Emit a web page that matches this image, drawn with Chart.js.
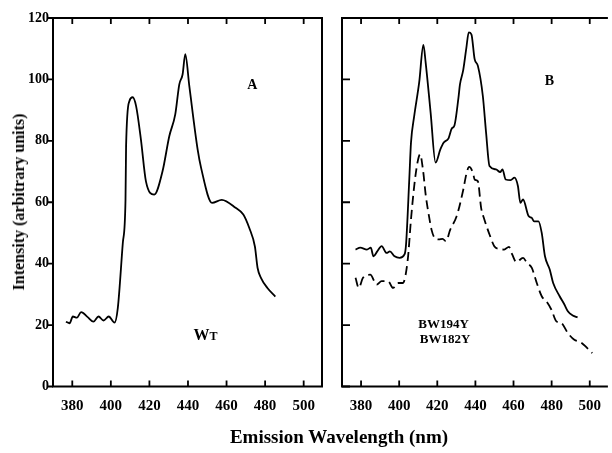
<!DOCTYPE html>
<html><head><meta charset="utf-8">
<script src="https://cdn.jsdelivr.net/npm/chart.js@4.4.1/dist/chart.umd.min.js"></script>
<style>
html,body{margin:0;padding:0;background:#fff;width:612px;height:453px;overflow:hidden;}
#wrapA{position:absolute;left:0;top:0;width:330px;height:453px;}
#wrapB{position:absolute;left:300px;top:0;width:312px;height:453px;}
.xtitle{position:absolute;left:339px;top:427px;transform:translateX(-50%);font:bold 19px 'Liberation Serif';line-height:19px;white-space:nowrap;color:#000}
.ytitle{position:absolute;left:19px;top:202px;transform:translate(-50%,-50%) rotate(-90deg);font:bold 16px 'Liberation Serif';white-space:nowrap;color:#000}
</style></head>
<body>
<div id="wrapA"><canvas id="cA" width="330" height="453"></canvas></div>
<div id="wrapB"><canvas id="cB" width="312" height="453"></canvas></div>
<div class="xtitle">Emission Wavelength (nm)</div>
<div class="ytitle">Intensity (arbitrary units)</div>
<script>
// ---- data ----
const xTickValues = [380, 400, 420, 440, 460, 480, 500];
const yTickValues = [0, 20, 40, 60, 80, 100, 120];

const wtWavelength = [376.7, 378.6, 380.3, 382.4, 384.6, 388, 391, 393.6, 396.2, 398.9, 401.9, 403.6, 406.2, 407.6, 407.9, 409.6, 411.3, 413.1, 415.6, 418.2, 422.5, 426.8, 430.3, 433.4, 435.5, 437.2, 438.6, 440.7, 445, 446.8, 452.5, 457.5, 464.9, 468.7, 471.8, 474.7, 476.1, 477.9, 481.3, 485.3];
const wtIntensity = [21.1, 20.6, 22.8, 22.4, 24.2, 22.6, 21.1, 22.8, 21.5, 22.8, 20.8, 25.5, 46.7, 60.8, 78.2, 92.9, 94.2, 91.3, 80.4, 66.8, 62.5, 70.1, 81.5, 88.6, 98.4, 101.6, 108.2, 97.8, 77.2, 71.2, 59.8, 60.8, 58.1, 56, 51.6, 45.6, 38.6, 35.3, 32, 29.3];

const bw194Wavelength = [377.1, 379.6, 383.1, 385.1, 386.5, 388.5, 390.8, 393.4, 395.1, 397.6, 400.2, 402.8, 403.6, 405.3, 406.2, 407.9, 410.5, 412.7, 413.9, 416.5, 419.1, 421.6, 423.3, 425.9, 427.6, 429, 431.1, 431.9, 433.6, 435.2, 436.5, 437.9, 439.6, 441.3, 443.9, 445.6, 447.4, 450.8, 453, 454.2, 455.9, 458.5, 460.5, 462.3, 463.6, 465, 467.9, 469.6, 470.8, 473.1, 474.8, 476.5, 479, 480.8, 484.2, 486.7, 488.5, 491.1, 493.6];
const bw194Intensity = [44.6, 45.2, 44.6, 45.2, 42.4, 44, 45.7, 43.5, 44, 42.4, 41.9, 43, 46.2, 67.4, 79.4, 88.1, 99, 111.2, 105.5, 89.2, 72.9, 77.2, 79.4, 80.8, 84, 85, 94, 98.4, 103, 110, 115.3, 114.7, 106.6, 104.4, 94.6, 82.7, 71.8, 70.7, 69.8, 70.7, 67.4, 67.2, 68, 65.3, 59.8, 60.9, 55.5, 54.9, 53.8, 53.8, 50, 42.4, 38.1, 33.7, 29.4, 26.7, 24.5, 23.1, 22.5];

const bw182Wavelength = [377.1, 378.8, 381, 384.8, 388.2, 390.8, 394.2, 396.8, 399.3, 401.9, 404.5, 406.2, 407.9, 409.6, 411, 412.5, 414, 415.5, 417, 418.5, 420.8, 422.8, 424.5, 426.8, 430.2, 433.6, 435.2, 436.7, 438.7, 439.6, 441.3, 443, 444.7, 447.4, 449.9, 452.5, 455.1, 457.6, 459.3, 461.5, 465, 467, 469.6, 472.2, 474.8, 477.3, 479.9, 482.5, 485.1, 488.5, 491.9, 495.3, 498.7, 501.3];
const bw182Intensity = [35.4, 32.1, 35.4, 36.4, 33.2, 34.3, 34.3, 32.1, 33.7, 33.7, 41.3, 54.4, 65.3, 72.9, 75.6, 70.5, 62, 56, 51, 48.5, 47.9, 48.1, 47.3, 51.1, 55.5, 64, 69, 71.5, 69.6, 67.4, 66.8, 58.2, 54.4, 49.5, 45.7, 44.8, 44.6, 45.5, 43, 40.5, 41.9, 40.3, 38.6, 33.7, 29.4, 27.7, 25, 21.2, 20.7, 17.4, 15.2, 14.4, 12.5, 10.9];

const toPts = (xs, ys) => xs.map((x, i) => ({x: x, y: ys[i]}));
const FONT = "'Liberation Serif', 'Times New Roman', serif";

const framePlugin = {
  id: 'frame',
  afterDraw(chart, args, opts) {
    const {ctx, chartArea} = chart;
    const {left, right, top, bottom} = chartArea;
    const xs = chart.scales.x, ys = chart.scales.y;
    ctx.save();
    ctx.strokeStyle = '#000';
    ctx.lineWidth = 2;
    ctx.lineCap = 'square';
    ctx.beginPath();
    ctx.moveTo(left, top); ctx.lineTo(left, bottom); ctx.lineTo(right, bottom);
    ctx.moveTo(left, top); ctx.lineTo(right, top);
    if (opts.rightBorder) { ctx.moveTo(right, top); ctx.lineTo(right, bottom); }
    ctx.stroke();
    ctx.lineCap = 'butt';
    ctx.lineWidth = 1.8;
    ctx.beginPath();
    xs.ticks.forEach(t => {
      const px = xs.getPixelForValue(t.value);
      ctx.moveTo(px, bottom); ctx.lineTo(px, bottom - 6);
      ctx.moveTo(px, top); ctx.lineTo(px, top + 6);
    });
    ys.ticks.forEach(t => {
      const py = ys.getPixelForValue(t.value);
      if (opts.yInside) { ctx.moveTo(left, py); ctx.lineTo(left + 8, py); }
      else { ctx.moveTo(left - 5, py); ctx.lineTo(left, py); }
    });
    ctx.stroke();
    ctx.fillStyle = '#000';
    (opts.labels || []).forEach(l => {
      let px = xs.getPixelForValue(l.x);
      const py = ys.getPixelForValue(l.y);
      ctx.textBaseline = l.baseline || 'alphabetic';
      const widths = l.parts.map(p => { ctx.font = 'bold ' + p.size + 'px ' + FONT; return ctx.measureText(p.text).width; });
      const total = widths.reduce((a, b) => a + b, 0);
      if (l.align === 'center') px -= total / 2;
      ctx.textAlign = 'left';
      l.parts.forEach((p, i) => {
        ctx.font = 'bold ' + p.size + 'px ' + FONT;
        ctx.fillText(p.text, px, py);
        px += widths[i];
      });
    });
    ctx.restore();
  }
};

function makeChart(id, datasets, cfg) {
  return new Chart(document.getElementById(id), {
    type: 'line',
    data: { datasets: datasets },
    plugins: [framePlugin],
    options: {
      responsive: false, animation: false, devicePixelRatio: 1,
      layout: { padding: { top: 18, right: cfg.padRight, left: 0, bottom: 0 } },
      plugins: { legend: { display: false }, tooltip: { enabled: false }, frame: cfg.frame },
      scales: {
        x: {
          type: 'linear', min: 370, max: cfg.xMax,
          afterBuildTicks: s => { s.ticks = xTickValues.map(v => ({ value: v })); },
          afterFit: s => { s.height = 66.5; },
          grid: { display: false, drawTicks: false }, border: { display: false },
          ticks: { color: '#000', font: { family: FONT, size: 15, weight: 'bold' }, padding: 11, maxRotation: 0, autoSkip: false }
        },
        y: {
          min: 0, max: 120,
          afterBuildTicks: s => { s.ticks = yTickValues.map(v => ({ value: v })); },
          afterFit: s => { s.width = cfg.yWidth; },
          grid: { display: false, drawTicks: false }, border: { display: false },
          ticks: { display: cfg.yLabels, color: '#000', font: { family: FONT, size: 14, weight: 'bold' }, padding: 4 }
        }
      }
    }
  });
}

const lineStyle = { borderColor: '#000', borderWidth: 1.8, pointRadius: 0, cubicInterpolationMode: 'monotone', fill: false };

makeChart('cA', [
  Object.assign({ label: 'WT', data: toPts(wtWavelength, wtIntensity) }, lineStyle)
], {
  padRight: 8, xMax: 509.5, yWidth: 53, yLabels: true,
  frame: { rightBorder: true, yInside: false, labels: [
    { parts: [{ text: 'A', size: 14 }], x: 473.4, y: 98, align: 'center', baseline: 'middle' },
    { parts: [{ text: 'W', size: 16 }, { text: 'T', size: 12 }], x: 442.8, y: 15.2, align: 'left' }
  ] }
});

makeChart('cB', [
  Object.assign({ label: 'BW194Y', data: toPts(bw194Wavelength, bw194Intensity) }, lineStyle),
  Object.assign({ label: 'BW182Y', data: toPts(bw182Wavelength, bw182Intensity) }, lineStyle, { borderDash: [9, 5] })
], {
  padRight: 0, xMax: 509, yWidth: 42, yLabels: false,
  frame: { rightBorder: false, yInside: true, labels: [
    { parts: [{ text: 'B', size: 14 }], x: 478.9, y: 99.4, align: 'center', baseline: 'middle' },
    { parts: [{ text: 'BW194Y', size: 13 }], x: 423.3, y: 19.2, align: 'center' },
    { parts: [{ text: 'BW182Y', size: 13 }], x: 424.1, y: 14.3, align: 'center' }
  ] }
});
</script>
</body></html>
